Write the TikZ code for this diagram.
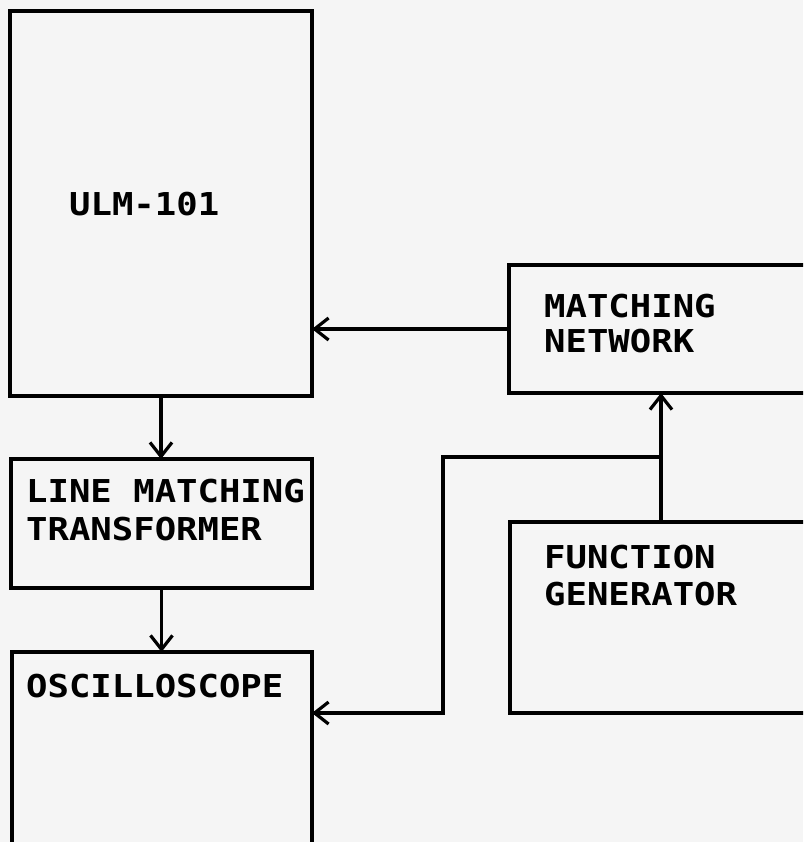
\documentclass[tikz,border=0pt]{standalone}
\usepackage{fontspec}
\newfontfamily\plotfont[FakeStretch=1.13]{DejaVu Sans Mono Bold}
\usetikzlibrary{arrows.meta}
\tikzset{
  blk/.style={draw=black, line width=3.2pt, minimum width=#1, inner sep=0pt, outer sep=0pt},
  lbl/.style={anchor=base west, inner sep=0pt, font=\plotfont\fontsize{31.5}{36}\selectfont, text=black},
  arr/.style={draw=black, line width=3.2pt, -{Straight Barb[length=14pt,width=22pt]}},
  wire/.style={draw=black, line width=3.2pt}
}
\begin{document}
\begin{tikzpicture}[x=1pt,y=-1pt]
\fill[white!96!black] (0,0) rectangle (803,842);
\useasboundingbox (0,0) rectangle (803,842);
\clip (0,0) rectangle (803,842);
% boxes
\node[blk=302pt, minimum height=385pt] (ulm) at (161,203.5) {};
\node[blk=301pt, minimum height=129pt] (lmt) at (161.5,523.5) {};
\node[blk=300pt, minimum height=218pt] (osc) at (162,761) {};
\node[blk=321pt, minimum height=128pt] (mn) at (669.5,329) {};
\node[blk=320pt, minimum height=191pt] (fg) at (670,617.5) {};
% labels
\node[lbl] (ulmt) at (69,215.5) {ULM-101};
\node[lbl] (lmt1) at (26,502) {LINE MATCHING};
\node[lbl] (lmt2) at (26,540) {TRANSFORMER};
\node[lbl] (osct) at (26,697) {OSCILLOSCOPE};
\node[lbl] (mn1) at (544,317) {MATCHING};
\node[lbl] (mn2) at (544,352) {NETWORK};
\node[lbl] (fg1) at (544,568) {FUNCTION};
\node[lbl] (fg2) at (544,605) {GENERATOR};
% connectors
\coordinate (j) at (661,457);
\coordinate (k) at (443,457);
\draw[arr] (mn.west) -- (mn.west -| ulm.east);
\draw[arr] (ulm.south) -- (ulm.south |- lmt.north);
\draw[arr] (lmt.south) -- (lmt.south |- osc.north);
\draw[arr] (j |- fg.north) -- (j |- mn.south);
\draw[arr] (j) -- (k) -- (k |- fg.south) -- (fg.south -| osc.east);
\end{tikzpicture}
\end{document}
